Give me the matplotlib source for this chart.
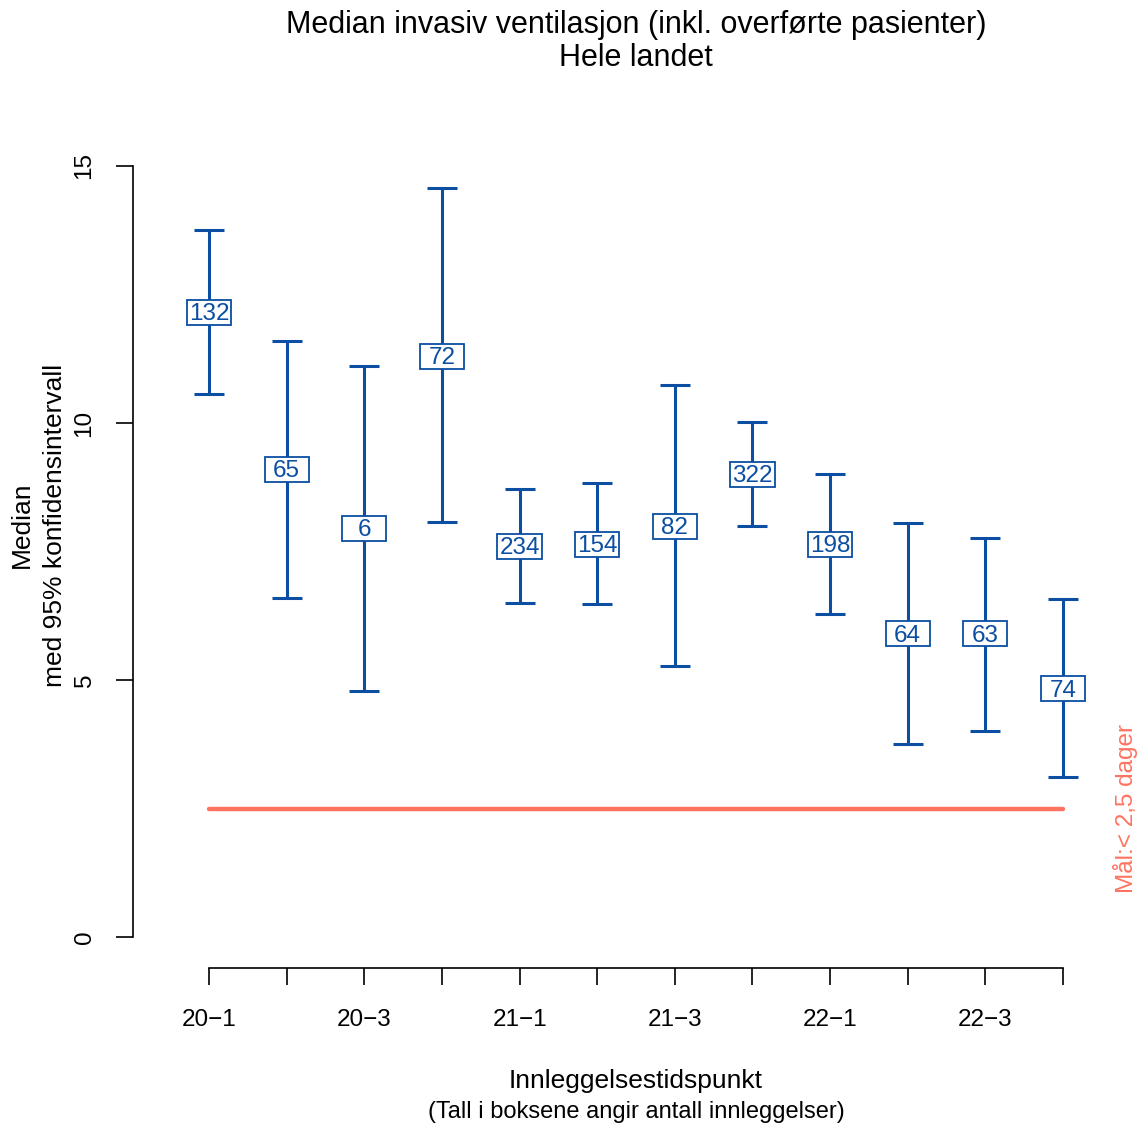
import matplotlib
matplotlib.use("Agg")
import matplotlib.pyplot as plt
from matplotlib.patches import Rectangle
import numpy as np

plt.rcParams['font.family'] = ['Liberation Sans', 'DejaVu Sans']

# Data
periods = ['20−1', '20−2', '20−3', '20−4', '21−1', '21−2',
           '21−3', '21−4', '22−1', '22−2', '22−3', '22−4']
medians = [12.15, 9.10, 7.95, 11.30, 7.60, 7.64, 7.99, 9.00, 7.64, 5.90, 5.90, 4.83]
lower = [10.56, 6.60, 4.79, 8.07, 6.49, 6.47, 5.28, 7.99, 6.29, 3.76, 4.01, 3.12]
upper = [13.75, 11.59, 11.10, 14.57, 8.71, 8.84, 10.73, 10.01, 9.00, 8.05, 7.77, 6.57]
counts = [132, 65, 6, 72, 234, 154, 82, 322, 198, 64, 63, 74]
target = 2.5

blue = '#0B4EA2'
red = '#FF7260'

fig = plt.figure(figsize=(11.43, 11.29), dpi=100)
ax = fig.add_axes([133 / 1143, 1 - 968 / 1129, (1139 - 133) / 1143, (968 - 135) / 1129])

x = np.arange(1, len(periods) + 1)
med = np.array(medians)
ax.errorbar(x, med, yerr=[med - np.array(lower), np.array(upper) - med],
            fmt='none', ecolor=blue, elinewidth=2.2, capsize=10.5, capthick=2.2, zorder=2)

# fixed-size label boxes (same width for all, like the reference)
box_w, box_h = 0.57, 0.49
for xi, m, n in zip(x, medians, counts):
    ax.add_patch(Rectangle((xi - box_w / 2, m - box_h / 2), box_w, box_h,
                           facecolor='white', edgecolor=blue, linewidth=1.3, zorder=3))
    ax.text(xi, m - 0.04, str(n), ha='center', va='center', fontsize=17.5, color=blue, zorder=4)

ax.plot([x[0], x[-1]], [target, target], color=red, linewidth=3.2, solid_capstyle='round', zorder=1)
ax.text(12.81, target, 'Mål:< 2,5 dager', rotation=90, ha='center', va='center',
        color=red, fontsize=17.5)

ax.set_xlim(0.02, 12.98)
ax.set_ylim(-0.6, 15.6)
for s in ['top', 'right']:
    ax.spines[s].set_visible(False)
ax.spines['left'].set_bounds(0, 15)
ax.spines['bottom'].set_bounds(1, 12)
ax.spines['left'].set_linewidth(1.2)
ax.spines['bottom'].set_linewidth(1.2)

ax.set_xticks(x)
ax.set_xticklabels([p if i % 2 == 0 else '' for i, p in enumerate(periods)], fontsize=17.5)
ax.set_yticks([0, 5, 10, 15])
ax.set_yticklabels(['0', '5', '10', '15'], fontsize=17.5, rotation=90, va='center')
ax.tick_params(axis='both', direction='out', length=12, width=1.2)
ax.tick_params(axis='x', pad=17.5)
ax.tick_params(axis='y', pad=15)

fig.text(636 / 1143, 1 - 25 / 1129, 'Median invasiv ventilasjon (inkl. overførte pasienter)',
         ha='center', va='center', fontsize=22)
fig.text(636 / 1143, 1 - 58 / 1129, 'Hele landet', ha='center', va='center', fontsize=22)
fig.text(636 / 1143, 1 - 1081 / 1129, 'Innleggelsestidspunkt', ha='center', va='center', fontsize=19)
fig.text(636 / 1143, 1 - 1112 / 1129, '(Tall i boksene angir antall innleggelser)',
         ha='center', va='center', fontsize=17)
fig.text(22 / 1143, 1 - 525 / 1129, 'Median', rotation=90, ha='center', va='center', fontsize=19)
fig.text(55 / 1143, 1 - 525 / 1129, 'med 95% konfidensintervall', rotation=90,
         ha='center', va='center', fontsize=19)

fig.savefig('out.png', dpi=100)
